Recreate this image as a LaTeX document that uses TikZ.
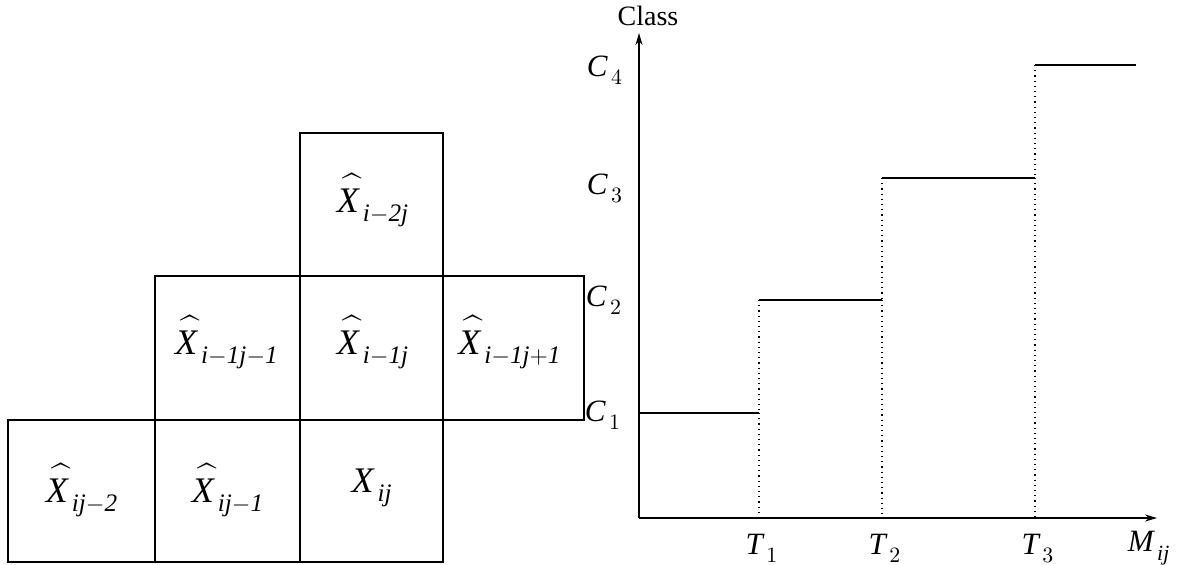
\documentclass[tikz,border=0pt]{standalone}
\usepackage{amsmath}
\usepackage{fontspec}
\setmainfont{Liberation Serif}
\usetikzlibrary{arrows.meta}
\newcommand{\hx}{\rlap{\raisebox{2.5pt}{$\mkern2mu\widehat{\phantom{\mathit{X}}}$}}\mathit{X}}
\newcommand{\lsb}[1]{_{\mkern3mu\raisebox{-2pt}{$\scriptstyle #1$}}}
\begin{document}
\begin{tikzpicture}[x=0.5pt,y=-0.5pt,
  cellline/.style={draw=black,line width=0.6pt},
  axisline/.style={draw=black,line width=0.6pt,-{Stealth[length=6pt,width=3.5pt]}},
  stepline/.style={draw=black,line width=0.6pt},
  dotline/.style={draw=black,line width=0.6pt,dotted},
  cellfont/.style={font=\fontsize{18}{21}\selectfont,inner sep=0pt},
  lblfont/.style={font=\fontsize{15.5}{18}\selectfont,inner sep=0pt}]
\useasboundingbox (0,0) rectangle (1181,564);
% grid cells
\draw[cellline] (300,133) rectangle (443,276);
\draw[cellline] (155,276) rectangle (300,420);
\draw[cellline] (300,276) rectangle (443,420);
\draw[cellline] (443,276) rectangle (584,420);
\draw[cellline] (8,420) rectangle (155,562);
\draw[cellline] (155,420) rectangle (300,562);
\draw[cellline] (300,420) rectangle (443,562);
% cell labels
\node[cellfont] (a) at (373,200) {$\hx\lsb{\mathit{i}-\mathit{2j}}$};
\node[cellfont] (b) at (227,342) {$\hx\lsb{\mathit{i}-\mathit{1j}-\mathit{1}}$};
\node[cellfont] (c) at (373,342) {$\hx\lsb{\mathit{i}-\mathit{1j}}$};
\node[cellfont] (d) at (510,342) {$\hx\lsb{\mathit{i}-\mathit{1j}+\mathit{1}}$};
\node[cellfont] (e) at (82,490) {$\hx\lsb{\mathit{ij}-\mathit{2}}$};
\node[cellfont] (f) at (228,490) {$\hx\lsb{\mathit{ij}-\mathit{1}}$};
\node[cellfont] (g) at (372,488) {$\mathit{X}\lsb{\mathit{ij}}$};
% axes
\coordinate (o) at (639,518);
\coordinate (ytip) at (639,33);
\coordinate (xtip) at (1157,518);
\draw[axisline] (o) -- (ytip);
\draw[axisline] (o) -- (xtip);
% steps
\coordinate (s1a) at (639,413); \coordinate (s1b) at (759,413); \coordinate (t1) at (759,518);
\coordinate (s2a) at (759,300); \coordinate (s2b) at (882,300); \coordinate (t2) at (882,518);
\coordinate (s3a) at (882,178); \coordinate (s3b) at (1035,178); \coordinate (t3) at (1035,518);
\coordinate (s4a) at (1035,65); \coordinate (s4b) at (1136,65);
\draw[stepline] (s1a) -- (s1b);
\draw[stepline] (s2a) -- (s2b);
\draw[stepline] (s3a) -- (s3b);
\draw[stepline] (s4a) -- (s4b);
\draw[dotline] (s1b) -- (t1);
\draw[dotline] (s2a) -- (s1b);
\draw[dotline] (s2b) -- (t2);
\draw[dotline] (s3a) -- (s2b);
\draw[dotline] (s3b) -- (t3);
\draw[dotline] (s4a) -- (s3b);
% labels
\node[font=\fontsize{14}{16}\selectfont,inner sep=0pt] (cls) at (648,16) {Class};
\node[lblfont] (c4) at (605,70) {$\mathit{C}\lsb{4}$};
\node[lblfont] (c3) at (605,188) {$\mathit{C}\lsb{3}$};
\node[lblfont] (c2) at (604,300) {$\mathit{C}\lsb{2}$};
\node[lblfont] (c1) at (603,415) {$\mathit{C}\lsb{1}$};
\node[lblfont] (T1) at (762,548) {$\mathit{T}\lsb{1}$};
\node[lblfont] (T2) at (885,548) {$\mathit{T}\lsb{2}$};
\node[lblfont] (T3) at (1038,548) {$\mathit{T}\lsb{3}$};
\node[lblfont] (M) at (1149,548) {$\mathit{M}\lsb{\mathit{ij}}$};
\end{tikzpicture}
\end{document}
